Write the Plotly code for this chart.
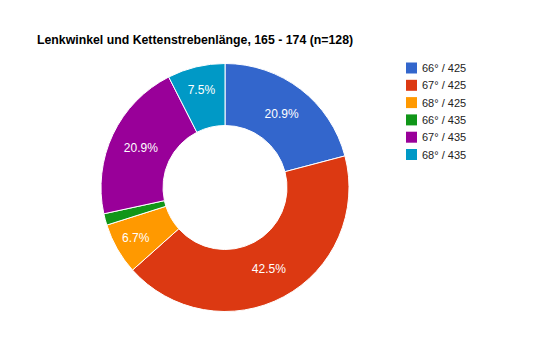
import plotly.graph_objects as go

labels = ["66° / 425", "67° / 425", "68° / 425", "66° / 435", "67° / 435", "68° / 435"]
values = [20.9, 42.5, 6.7, 1.5, 20.9, 7.5]
slice_text = ["20.9%", "42.5%", "6.7%", "", "20.9%", "7.5%"]
colors = ["#3366cc", "#dc3912", "#ff9900", "#109618", "#990099", "#0099c6"]
title_text = "Lenkwinkel und Kettenstrebenlänge, 165 - 174 (n=128)"

W, H = 550, 360
OFF = 8  # page body offset
cx, cy, r = 225 - OFF, 187.5 - OFF, 124

FONT = "Liberation Sans, Arial, sans-serif"

fig = go.Figure(go.Pie(
    labels=labels,
    values=values,
    text=slice_text,
    textinfo="text",
    textposition="inside",
    insidetextorientation="horizontal",
    textfont=dict(color="white", size=12, family=FONT),
    hole=0.5,
    sort=False,
    direction="clockwise",
    rotation=0,
    marker=dict(colors=colors, line=dict(color="white", width=1)),
    domain=dict(x=[(cx - r) / W, (cx + r) / W], y=[1 - (cy + r) / H, 1 - (cy - r) / H]),
    hoverinfo="label+percent",
    showlegend=False,
))

# Custom legend (Google-Charts style): small squares with labels
leg_x0 = 406 - OFF
leg_y0 = 68 - OFF
leg_step = 17.3
sq = 11
shapes = []
annotations = []
for i, (lab, col) in enumerate(zip(labels, colors)):
    yc = leg_y0 + i * leg_step
    shapes.append(dict(
        type="rect", xref="paper", yref="paper",
        x0=leg_x0 / W, x1=(leg_x0 + sq) / W,
        y0=1 - (yc + sq / 2) / H, y1=1 - (yc - sq / 2) / H,
        fillcolor=col, line=dict(width=0),
    ))
    annotations.append(dict(
        xref="paper", yref="paper", x=(leg_x0 + sq + 3) / W, y=1 - yc / H,
        xanchor="left", yanchor="middle", text=lab, showarrow=False,
        font=dict(size=11, color="#222222", family=FONT),
    ))

fig.update_layout(
    width=W, height=H,
    margin=dict(l=0, r=0, t=0, b=0),
    paper_bgcolor="white",
    font=dict(family=FONT, color="#222222"),
    title=dict(
        text="<b>" + title_text + "</b>",
        x=(37 - OFF) / W, xanchor="left", y=1 - (40 - OFF) / H, yanchor="middle",
        font=dict(size=12.3, color="#000000"),
    ),
    shapes=shapes,
    annotations=annotations,
)

fig.write_html("out.html")
